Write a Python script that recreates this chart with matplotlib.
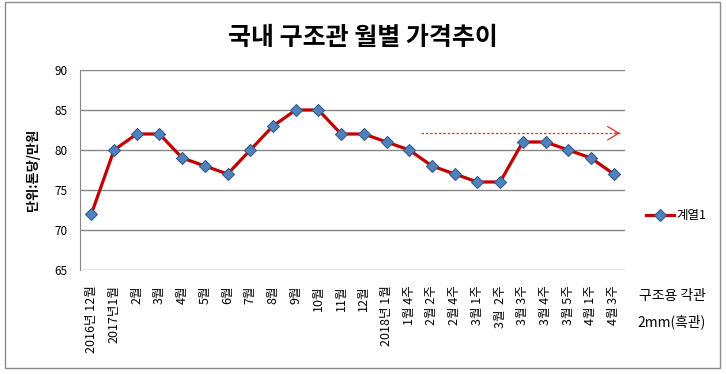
import matplotlib
matplotlib.use("Agg")
from matplotlib import pyplot as plt
from matplotlib.patches import Rectangle

plt.rcParams['font.family'] = ['Noto Sans CJK KR', 'DejaVu Sans']

months = ["2016년 12월", "2017년1월", "2월", "3월", "4월", "5월", "6월", "7월",
          "8월", "9월", "10월", "11월", "12월", "2018년 1월", "1월 4주", "2월 2주",
          "2월 4주", "3월 1주", "3월  2주", "3월 3주", "3월 4주", "3월 5주",
          "4월 1주", "4월 3주"]
prices = [72, 80, 82, 82, 79, 78, 77, 80, 83, 85, 85, 82, 82, 81, 80, 78,
          77, 76, 76, 81, 81, 80, 79, 77]
y_ticks = [65, 70, 75, 80, 85, 90]

# dashed trend arrow (category index, value)
arrow_from = (14.5, 82.1)
arrow_to = (23.4, 82.1)

fig = plt.figure(figsize=(7.26, 3.74), dpi=100)
fig.patch.set_facecolor("white")

# chart border like the excel chart area
fig.patches.append(Rectangle((5 / 726, 6 / 374), 715 / 726, 366 / 374,
                             transform=fig.transFigure, fill=False,
                             edgecolor="#8c8c8c", lw=1.0))

ax = fig.add_axes([80 / 726, 104 / 374, 545 / 726, 200 / 374])

x = list(range(len(prices)))
ax.plot(x, prices, color="#c00000", lw=2.3, marker="D", markersize=6.5,
        markerfacecolor="#4f81bd", markeredgecolor="#385d8a",
        markeredgewidth=0.8, label="계열1", zorder=3)

ax.plot([arrow_from[0], arrow_to[0] - 0.1], [arrow_from[1], arrow_to[1]],
        color="#e03030", ls=(0, (2, 1.5)), lw=0.9, zorder=2)
ax.annotate("", xy=arrow_to, xytext=(arrow_to[0] - 0.5, arrow_to[1]),
            arrowprops=dict(arrowstyle="->,head_length=0.5,head_width=0.3",
                            color="#e03030", lw=0.9, mutation_scale=16))

ax.set_xlim(-0.5, len(prices) - 0.5)
ax.set_ylim(65, 90)
ax.set_yticks(y_ticks)
ax.set_xticks(x)
ax.set_xticklabels(months, rotation=90, fontsize=9, va="top", ha="center")
ax.tick_params(axis="x", length=0, pad=11)
ax.tick_params(axis="y", length=0, pad=9, labelsize=8.5)
ax.yaxis.grid(True, color="#868686", lw=1.0)
ax.set_axisbelow(True)
for s in ["top", "right", "bottom"]:
    ax.spines[s].set_visible(False)
ax.spines["left"].set_color("#868686")

ax.set_ylabel("단위:톤당/만원", fontsize=9.5, fontweight="bold", labelpad=10)

fig.text(363 / 726, 1 - 38 / 374, "국내 구조관 월별 가격추이", fontsize=18,
         fontweight="bold", ha="center", va="center")

fig.legend(loc="center left", bbox_to_anchor=(640 / 726, 1 - 216 / 374),
           frameon=False, fontsize=9, handlelength=2.2, handletextpad=0.2,
           borderpad=0)

fig.text(672 / 726, 1 - 296 / 374, "구조용 각관", fontsize=10,
         ha="center", va="center")
fig.text(672 / 726, 1 - 322 / 374, "2mm(흑관)", fontsize=10,
         ha="center", va="center")

plt.savefig("out.png", dpi=100)
